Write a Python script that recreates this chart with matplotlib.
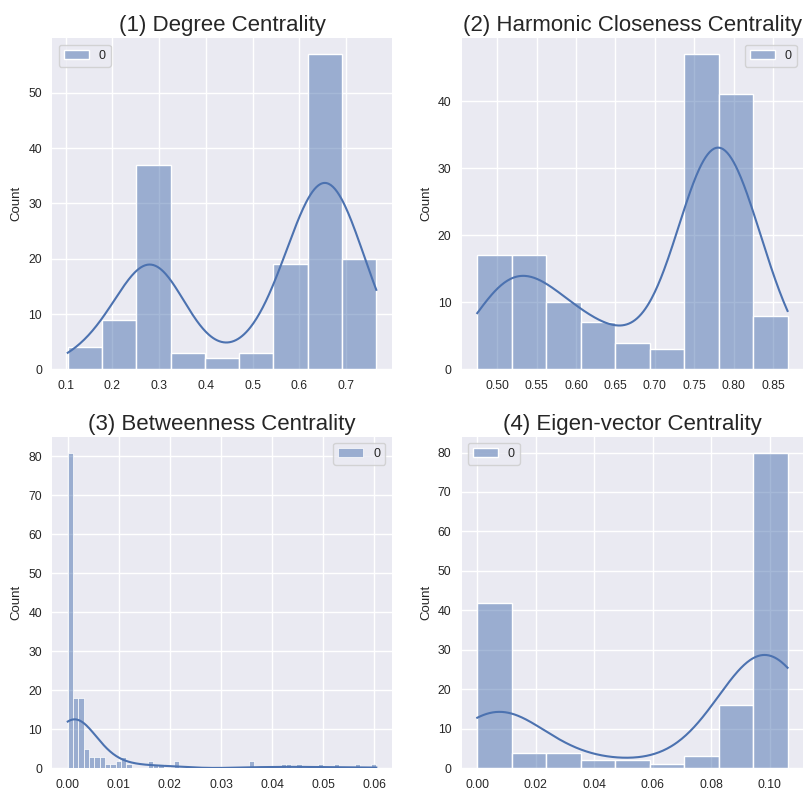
import numpy as np
import matplotlib
matplotlib.use("Agg")
import matplotlib.pyplot as plt

# ---- data (bin counts, n = 154 nodes) ----
titles = ["(1) Degree Centrality", "(2) Harmonic Closeness Centrality",
          "(3) Betweenness Centrality", "(4) Eigen-vector Centrality"]

degree_range = (0.1046, 0.7647)
degree_counts = [4, 9, 37, 3, 2, 3, 19, 57, 20]

closeness_range = (0.4746, 0.8685)
closeness_counts = [17, 17, 10, 7, 4, 3, 47, 41, 8]

betweenness_range = (0.0, 0.0604)
betweenness_counts = [81, 18, 18, 5, 3, 3, 3, 1, 1, 2, 3, 1, 0, 0, 0, 2, 1, 1, 0, 0,
                      2, 0, 0, 0, 0, 0, 0, 0, 0, 0, 0, 0, 0, 0, 2, 0, 0, 0, 0, 0,
                      1, 1, 0, 1, 0, 0, 0, 1, 0, 0, 1, 0, 0, 0, 1, 0, 0, 1]

eigen_range = (0.0, 0.1061)
eigen_counts = [42, 4, 4, 2, 2, 1, 3, 16, 80]

panels = [(degree_range, degree_counts, "upper left"),
          (closeness_range, closeness_counts, "upper right"),
          (betweenness_range, betweenness_counts, "upper right"),
          (eigen_range, eigen_counts, "upper left")]

BLUE = "#4C72B0"

plt.rcParams.update({
    "font.family": ["Liberation Sans", "DejaVu Sans"],
    "axes.facecolor": "#EAEAF2",
    "axes.edgecolor": "white",
    "axes.grid": True,
    "grid.color": "white",
    "grid.linewidth": 1.0,
    "axes.axisbelow": True,
    "xtick.major.size": 0,
    "ytick.major.size": 0,
    "xtick.major.pad": 7.5,
    "ytick.major.pad": 7.5,
    "xtick.color": "#262626",
    "ytick.color": "#262626",
    "text.color": "#262626",
    "axes.labelcolor": "#262626",
    "xtick.labelsize": 8.8,
    "ytick.labelsize": 8.8,
})


def kde_counts(edges, counts, grid):
    # gaussian kde (Scott's rule) of the binned sample, scaled to counts
    centers = (edges[:-1] + edges[1:]) / 2
    sample = np.repeat(centers, counts)
    n = len(sample)
    bw = sample.std(ddof=1) * n ** (-1 / 5)
    z = (grid[:, None] - sample[None, :]) / bw
    dens = np.exp(-0.5 * z ** 2).sum(axis=1) / (n * bw * np.sqrt(2 * np.pi))
    return dens * n * (edges[1] - edges[0])


fig = plt.figure(figsize=(8.05, 7.91), dpi=100)
boxes = [(0.065, 0.533, 0.4216, 0.4186), (0.5736, 0.533, 0.424, 0.4186),
         (0.065, 0.0287, 0.4216, 0.4192), (0.5736, 0.0287, 0.424, 0.4192)]

for box, title, (rng, counts, loc) in zip(boxes, titles, panels):
    ax = fig.add_axes(box)
    counts = np.array(counts)
    edges = np.linspace(rng[0], rng[1], len(counts) + 1)
    lw = 0.5 if len(counts) > 20 else 1.0
    ax.bar(edges[:-1], counts, width=np.diff(edges), align="edge",
           facecolor=(0.298, 0.447, 0.690, 0.5), edgecolor="white",
           linewidth=lw, label="0")
    grid = np.linspace(rng[0], rng[1], 300)
    ax.plot(grid, kde_counts(edges, counts, grid), color=BLUE, lw=1.5)
    ax.set_title(title, fontsize=16, pad=5)
    ax.set_ylabel("Count", fontsize=9.5, labelpad=4)
    for s in ax.spines.values():
        s.set_visible(False)
    leg = ax.legend(loc=loc, fontsize=9, frameon=True, handlelength=2.0)
    leg.get_frame().set_edgecolor("#cccccc")
    leg.get_frame().set_facecolor("#EAEAF2")

fig.savefig("out.png", dpi=100)
